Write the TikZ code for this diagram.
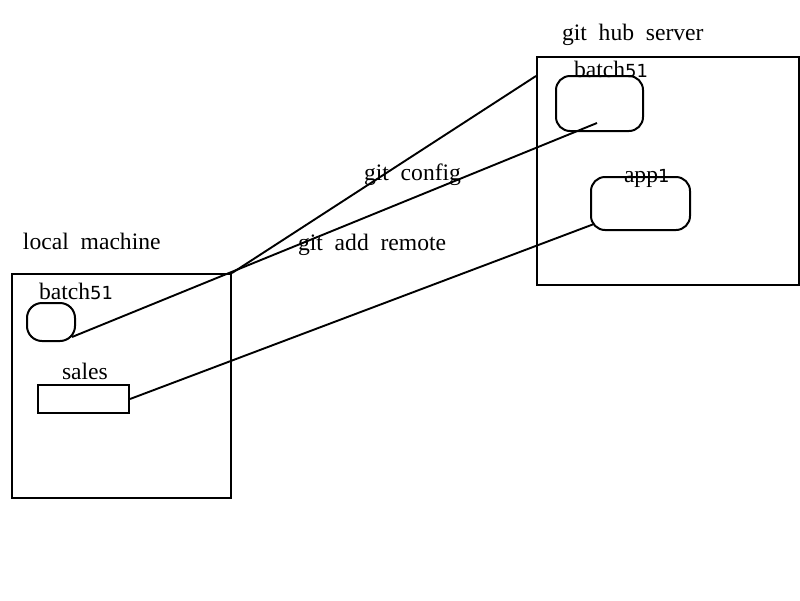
\documentclass[tikz,border=0pt]{standalone}
\usepackage{fontspec}
\setmainfont[WordSpace=2.0]{Liberation Serif}
\newfontfamily\digfont{DejaVu Sans}
\newcommand{\dg}[1]{{\digfont\fontsize{18}{22}\selectfont #1}}
\begin{document}
\begin{tikzpicture}[x=1pt,y=-1pt,line width=2pt,
  lbl/.style={font=\fontsize{23.6}{26}\selectfont,inner sep=0pt,anchor=base west},
  bigbox/.style={draw,rectangle,anchor=north west,inner sep=0pt},
  rbox/.style={draw,rounded corners=14pt,anchor=north west,inner sep=0pt},
  conn/.style={line width=1.9pt}]
\useasboundingbox[fill=white] (0,0) rectangle (800,600);
% boxes
\node[bigbox,minimum width=219pt,minimum height=224pt] (local) at (11,273) {};
\node[bigbox,minimum width=262pt,minimum height=228pt] (server) at (536,56) {};
\node[rbox,minimum width=48pt,minimum height=38pt,rounded corners=15pt] (lbatch) at (26,302) {};
\node[draw,rectangle,anchor=north west,inner sep=0pt,minimum width=91pt,minimum height=28pt] (sales) at (37,384) {};
\node[rbox,minimum width=87pt,minimum height=55pt] (sbatch) at (555,75) {};
\node[rbox,minimum width=99pt,minimum height=53pt] (app) at (590,176) {};
% labels
\node[lbl] (tserver) at (561,40) {git hub server};
\node[lbl] (tlocal) at (22,249) {local machine};
\node[lbl] (tlbatch) at (38,299) {batch\dg{51}};
\node[lbl] (tsales) at (61,379) {sales};
\node[lbl] (tsbatch) at (573,77) {batch\dg{51}};
\node[lbl] (tapp) at (623,182) {app\dg{1}};
\node[lbl] (tconfig) at (363,180) {git config};
\node[lbl] (tremote) at (297,250) {git add remote};
% connector ends
\coordinate (sb) at (536,76);
\coordinate (sbin) at (597,123);
\coordinate (lbin) at (72,337);
\coordinate (appin) at (594,224);
\draw[conn] (local.north east) -- (sb);
\draw[conn] (lbin) -- (sbin);
\draw[conn] (sales.east) -- (appin);
\end{tikzpicture}
\end{document}
